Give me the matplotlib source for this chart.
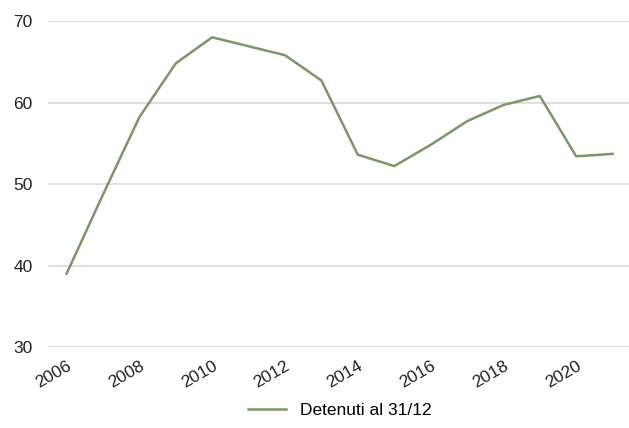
import matplotlib.pyplot as plt

plt.rcParams["font.family"] = ["Liberation Sans", "DejaVu Sans"]

years = list(range(2006, 2022))
detenuti = [39.0, 48.7, 58.2, 64.8, 68.0, 66.9, 65.8, 62.7, 53.6, 52.2,
            54.8, 57.7, 59.7, 60.8, 53.4, 53.7]
xticks = [2006, 2008, 2010, 2012, 2014, 2016, 2018, 2020]
yticks = [30, 40, 50, 60, 70]

fig = plt.figure(figsize=(6.29, 4.28), dpi=100)
ax = fig.add_axes([0.0763, 0.189, 0.9237, 0.762])

ax.plot(years, detenuti, color="#7d9669", linewidth=1.8, label="Detenuti al 31/12")

ax.set_xlim(2005.49, 2021.45)
ax.set_ylim(30, 70)
ax.set_yticks(yticks)
ax.set_xticks(xticks)
ax.set_xticklabels([str(x) for x in xticks], rotation=30, ha="right",
                   rotation_mode="anchor")
ax.tick_params(axis="both", length=0, labelsize=12.5, colors="#222222")
ax.tick_params(axis="x", pad=8)
ax.tick_params(axis="y", pad=11)
ax.grid(axis="y", color="#d9d9d9", linewidth=1.2)
ax.set_axisbelow(True)
for s in ax.spines.values():
    s.set_visible(False)

fig.legend(loc="center", bbox_to_anchor=(0.54, 0.042), frameon=False,
           fontsize=12.5, handlelength=2.2)

fig.savefig("out.png", dpi=100)
plt.close(fig)
